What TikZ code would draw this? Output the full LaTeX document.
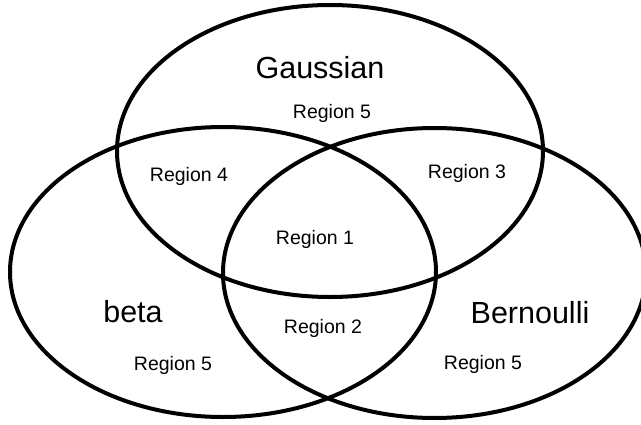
\documentclass[tikz,border=0pt]{standalone}
\usepackage{fontspec}
\setmainfont{Liberation Sans}
\usepackage{tikz}

\tikzset{
  setline/.style={line width=4pt},
  setname/.style={font=\fontsize{30.5}{36}\selectfont},
  region/.style={font=\fontsize{19.5}{24}\selectfont}
}

\begin{document}
\begin{tikzpicture}[x=1pt,y=-1pt]
\useasboundingbox (0,0) rectangle (641,424);

%%% HELP LINES - uncomment to design/extend
% \draw[step=50pt,gray,very thin] (0,0) grid (641,424);

% GAUSSIAN
\draw[setline] (330,151) ellipse [x radius=213pt, y radius=146pt];
\node[setname] (gauss) at (320,68) {Gaussian};
\node[region] (gaussonly) at (332,113) {Region 5};

% BETA
\draw[setline] (223,272) ellipse [x radius=213pt, y radius=145pt];
\node[setname] (beta) at (133,312) {beta};
\node[region] (betaonly) at (173,365) {Region 5};

% BERNOULLI
\draw[setline] (434.5,273) ellipse [x radius=211.5pt, y radius=145pt];
\node[setname] (bern) at (530,313) {Bernoulli};
\node[region] (bernonly) at (483,364) {Region 5};

% OVERLAPS
\node[region] (all) at (315,239) {Region 1};
\node[region] (betabern) at (323,328) {Region 2};
\node[region] (gaussbern) at (467,173) {Region 3};
\node[region] (gaussbeta) at (189,176) {Region 4};
\end{tikzpicture}
\end{document}
